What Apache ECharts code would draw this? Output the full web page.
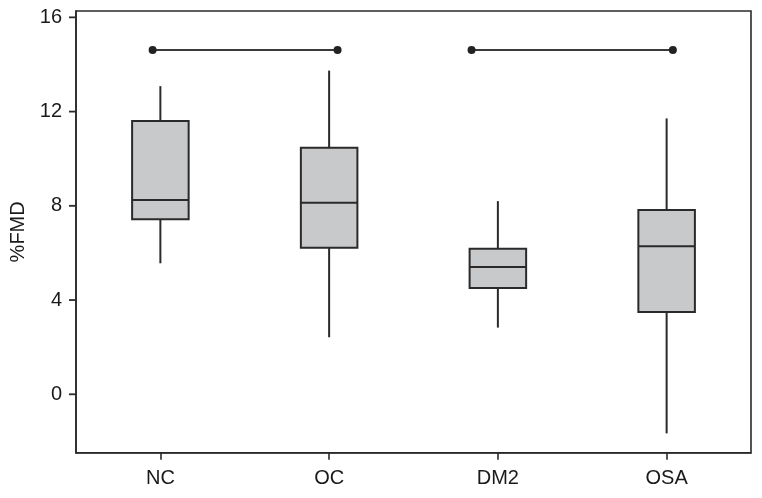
<!DOCTYPE html>
<html>
<head>
<meta charset="utf-8">
<script src="https://cdn.jsdelivr.net/npm/echarts@6/dist/echarts.min.js"></script>
<style>
html,body{margin:0;padding:0;background:#fff;}
#chart{width:762px;height:498px;}
</style>
</head>
<body>
<div id="chart"></div>
<script>
var categories = ['NC', 'OC', 'DM2', 'OSA'];
var whiskerLow = [5.56, 2.42, 2.83, -1.66];
var q1 = [7.43, 6.22, 4.51, 3.49];
var median = [8.25, 8.13, 5.40, 6.28];
var q3 = [11.60, 10.47, 6.18, 7.82];
var whiskerHigh = [13.08, 13.74, 8.20, 11.71];
var yTicks = [0, 4, 8, 12, 16];
var bracketLevel = 14.61;
var bracketA = [0.454, 1.550];
var bracketB = [2.344, 3.537];

var boxData = categories.map(function (c, i) {
  return [i, whiskerLow[i], q1[i], median[i], q3[i], whiskerHigh[i]];
});

var ink = '#2a2a2a';
var chart = echarts.init(document.getElementById('chart'), null, {renderer: 'canvas'});
var font = 'Liberation Sans, Arial, Helvetica, sans-serif';

chart.setOption({
  animation: false,
  backgroundColor: '#ffffff',
  grid: {
    left: 74.5, right: 11, top: 11, bottom: 45.3,
    show: true, borderColor: ink, borderWidth: 1.6, backgroundColor: 'transparent'
  },
  xAxis: [{
    type: 'category',
    data: categories,
    boundaryGap: true,
    axisLine: {show: true, onZero: false, lineStyle: {color: ink, width: 1.6}},
    axisTick: {show: true, inside: false, alignWithLabel: true, interval: 0, length: 7, lineStyle: {color: ink, width: 1.6}},
    axisLabel: {color: '#1a1a1a', fontSize: 20, fontFamily: font, margin: 16},
    splitLine: {show: false}
  }, {
    type: 'value',
    min: 0, max: 4,
    show: false,
    splitLine: {show: false}
  }],
  yAxis: {
    type: 'value',
    min: -2.48,
    max: 16.27,
    name: '%FMD',
    nameLocation: 'middle',
    nameGap: 48,
    nameTextStyle: {color: '#1a1a1a', fontSize: 20, fontFamily: font},
    axisLine: {show: true, onZero: false, lineStyle: {color: ink, width: 1.6}},
    axisTick: {show: false},
    axisLabel: {color: '#1a1a1a', fontSize: 20, fontFamily: font, margin: 14, customValues: yTicks},
    splitLine: {show: false}
  },
  series: [{
    type: 'custom',
    xAxisIndex: 0,
    yAxisIndex: 0,
    encode: {x: 0, y: [1, 2, 3, 4, 5]},
    data: boxData,
    renderItem: function (params, api) {
      var xi = api.value(0);
      var pLow = api.coord([xi, api.value(1)]);
      var pQ1 = api.coord([xi, api.value(2)]);
      var pMed = api.coord([xi, api.value(3)]);
      var pQ3 = api.coord([xi, api.value(4)]);
      var pHigh = api.coord([xi, api.value(5)]);
      var bw = api.size([1, 0])[0] * 0.335;
      var cx = pMed[0];
      var lineStyle = {stroke: ink, lineWidth: 2};
      return {
        type: 'group',
        children: [
          {type: 'line', shape: {x1: cx, y1: pHigh[1], x2: cx, y2: pQ3[1]}, style: lineStyle},
          {type: 'line', shape: {x1: cx, y1: pQ1[1], x2: cx, y2: pLow[1]}, style: lineStyle},
          {type: 'rect', shape: {x: cx - bw / 2, y: pQ3[1], width: bw, height: pQ1[1] - pQ3[1]},
            style: {fill: '#c8c9cb', stroke: ink, lineWidth: 2}},
          {type: 'line', shape: {x1: cx - bw / 2, y1: pMed[1], x2: cx + bw / 2, y2: pMed[1]}, style: lineStyle}
        ]
      };
    }
  }, {
    type: 'line',
    xAxisIndex: 1,
    yAxisIndex: 0,
    data: [[bracketA[0], bracketLevel], [bracketA[1], bracketLevel]],
    symbol: 'circle',
    symbolSize: 8,
    itemStyle: {color: '#222'},
    lineStyle: {color: '#3a3a3a', width: 2}
  }, {
    type: 'line',
    xAxisIndex: 1,
    yAxisIndex: 0,
    data: [[bracketB[0], bracketLevel], [bracketB[1], bracketLevel]],
    symbol: 'circle',
    symbolSize: 8,
    itemStyle: {color: '#222'},
    lineStyle: {color: '#3a3a3a', width: 2}
  }]
});

// y-axis tick marks placed through the library's own scales
var axisX = chart.convertToPixel({xAxisIndex: 1}, 0);
var tickGraphics = yTicks.map(function (v) {
  var py = chart.convertToPixel({yAxisIndex: 0}, v);
  return {
    type: 'rect',
    silent: true,
    z: 100,
    shape: {x: axisX - 7, y: py - 0.9, width: 7, height: 1.8},
    style: {fill: ink}
  };
});
chart.setOption({graphic: {elements: tickGraphics}});
</script>
</body>
</html>
